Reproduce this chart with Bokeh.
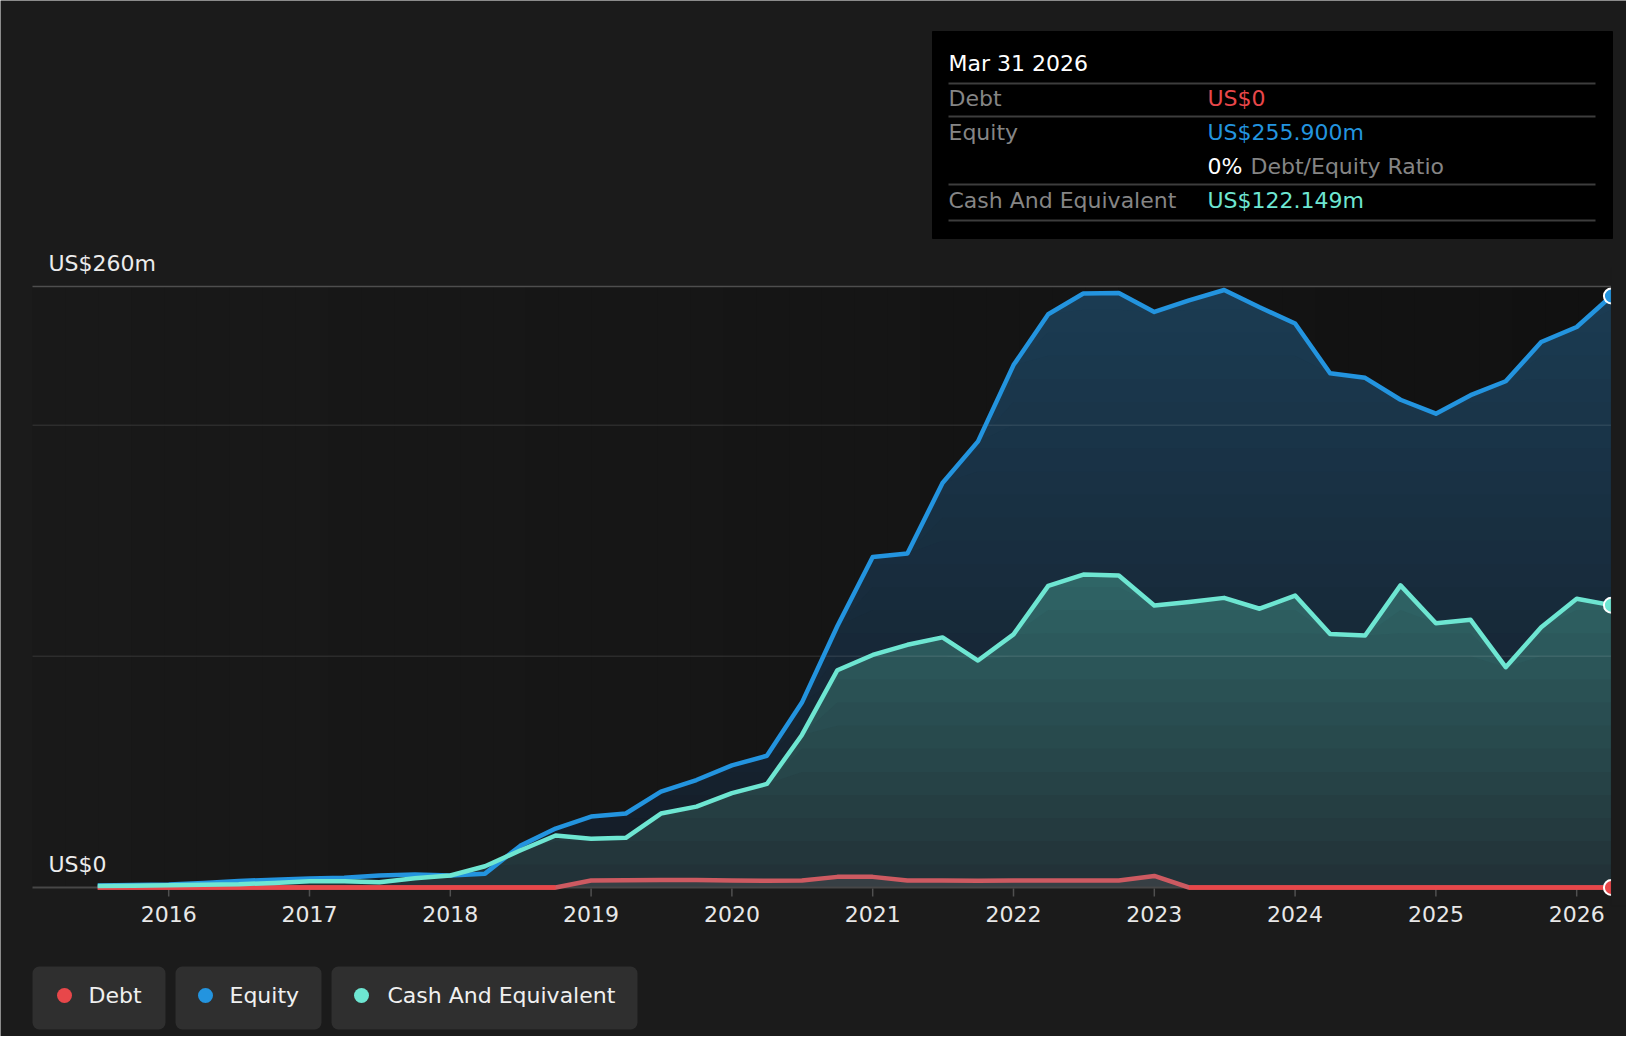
import numpy as np
from datetime import date
from bokeh.plotting import figure
from bokeh.models import Range1d, BoxAnnotation
from bokeh.core.properties import value
from bokeh.embed import file_html
from bokeh.resources import INLINE

# ---------------- data (US$ m) ----------------
quarters = [
    "2015-06-30", "2015-09-30", "2015-12-31",
    "2016-03-31", "2016-06-30", "2016-09-30", "2016-12-31",
    "2017-03-31", "2017-06-30", "2017-09-30", "2017-12-31",
    "2018-03-31", "2018-06-30", "2018-09-30", "2018-12-31",
    "2019-03-31", "2019-06-30", "2019-09-30", "2019-12-31",
    "2020-03-31", "2020-06-30", "2020-09-30", "2020-12-31",
    "2021-03-31", "2021-06-30", "2021-09-30", "2021-12-31",
    "2022-03-31", "2022-06-30", "2022-09-30", "2022-12-31",
    "2023-03-31", "2023-06-30", "2023-09-30", "2023-12-31",
    "2024-03-31", "2024-06-30", "2024-09-30", "2024-12-31",
    "2025-03-31", "2025-06-30", "2025-09-30", "2025-12-31",
    "2026-03-31",
]
debt = [
    0, 0, 0,
    0, 0, 0, 0,
    0, 0, 0, 0,
    0, 0, 0, 3.0,
    3.1, 3.2, 3.2, 3.0,
    2.9, 3.0, 4.6, 4.6,
    3.0, 3.0, 2.9, 3.0,
    3.0, 3.0, 3.0, 5.0,
    0, 0, 0, 0,
    0, 0, 0, 0,
    0, 0, 0, 0,
    0,
]
equity = [
    0.9, 1.1, 1.3,
    2.0, 2.8, 3.4, 3.9,
    4.2, 5.2, 5.6, 5.2,
    6.0, 18.0, 25.5, 30.7,
    32.0, 41.5, 46.5, 52.8,
    57.0, 80.0, 113.0, 143.0,
    144.5, 175.0, 193.0, 226.0,
    248.0, 257.0, 257.2, 249.0,
    254.0, 258.5, 251.0, 244.0,
    222.5, 220.5, 211.0, 205.0,
    213.0, 219.0, 236.0, 242.5,
    255.9,
]
cash = [
    0.6, 0.8, 1.0,
    1.2, 1.4, 2.0, 2.7,
    2.7, 2.3, 4.0, 5.2,
    9.2, 16.0, 22.5, 21.1,
    21.5, 32.0, 35.0, 40.8,
    44.8, 66.0, 94.0, 100.6,
    105.0, 108.2, 98.2, 109.5,
    130.5, 135.4, 135.0, 122.0,
    123.5, 125.3, 120.6, 126.3,
    109.7, 109.0, 130.7, 114.3,
    115.8, 95.3, 112.6, 124.9,
    122.149,
]
year_ticks = [2016, 2017, 2018, 2019, 2020, 2021, 2022, 2023, 2024, 2025, 2026]
y_label_values = [0, 260]
y_label_texts = ["US$0", "US$260m"]
grid_values = [100, 200]
series_names = ["Debt", "Equity", "Cash And Equivalent"]
tooltip_date = "Mar 31 2026"

# ---------------- style ----------------
PAGE = "#1b1b1b"
RED = "#e8474a"
RED_SOFT = "#cd5a61"
BLUE = "#2394df"
TEAL = "#6ee6d2"
GREY_TXT = "#858585"
FONT = value("DejaVu Sans")
FS = "22px"

W, H = 1626, 1036
OFF = 0  # canvas pixel = reference pixel - OFF
PX_X2016, PX_PER_YEAR = 168.2, 140.8
PX_Y0, PX_PER_M = 887.0, 2.3115


def fx(px):
    return 2016 + (px - PX_X2016) / PX_PER_YEAR


def fy(py):
    return (PX_Y0 - py) / PX_PER_M


def dec_year(s):
    d = date.fromisoformat(s)
    n = (date(d.year + 1, 1, 1) - date(d.year, 1, 1)).days
    return d.year + d.timetuple().tm_yday / n


def mix(c0, c1, t):
    t = min(max(t, 0.0), 1.0)
    return "#%02x%02x%02x" % tuple(int(round(a + (b - a) * t)) for a, b in zip(c0, c1))


xs = np.array([dec_year(q) for q in quarters])
d_arr = np.array(debt, dtype=float)
e_arr = np.array(equity, dtype=float)
c_arr = np.array(cash, dtype=float)

p = figure(width=W, height=H,
           x_range=Range1d(fx(OFF), fx(OFF + W)), y_range=Range1d(fy(OFF + H), fy(OFF)),
           output_backend="svg", toolbar_location=None,
           x_axis_location=None, y_axis_location=None,
           min_border=0, background_fill_color=PAGE, border_fill_color=PAGE,
           outline_line_color=None)
p.grid.visible = False

x_left = fx(32)
x_right = xs[-1]
y_top = y_label_values[-1]

# plot area background (darkening to the right); overlapping strips -> no seams
n = 48
edges = np.linspace(x_left, x_right, n + 1)
bg_cols = [mix((25, 25, 25), (17, 17, 17), i / (n - 1)) for i in range(n)]
p.quad(left=edges[:-1], right=[x_right] * n, bottom=0, top=y_top,
       fill_color=bg_cols, line_color=None)

# equity area (vertical gradient), drawn top band first so lower bands overlap
step = 10
lv = np.arange(0, y_top + step, step)
for a, b in reversed(list(zip(lv[:-1], lv[1:]))):
    if a >= e_arr.max():
        continue
    col = mix((20, 27, 37), (27, 60, 83), (a + b) / 2 / y_top)
    p.varea(x=xs, y1=0, y2=np.minimum(e_arr, b), fill_color=col, fill_alpha=1)

# cash area (vertical gradient)
for a, b in reversed(list(zip(lv[:-1], lv[1:]))):
    if a >= c_arr.max():
        continue
    col = mix((33, 48, 54), (48, 103, 104), (a + b) / 2 / 140)
    p.varea(x=xs, y1=0, y2=np.minimum(c_arr, b), fill_color=col, fill_alpha=1)

# debt area
p.varea(x=xs, y1=0, y2=d_arr, fill_color="#3a4046", fill_alpha=0.9)

# grid lines
p.segment(x0=x_left, x1=x_right, y0=grid_values, y1=grid_values,
          line_color="white", line_alpha=0.09, line_width=1.5)
p.segment(x0=x_left, x1=x_right, y0=y_top, y1=y_top,
          line_color="#4e4e4e", line_width=1.5)
p.segment(x0=x_left, x1=x_right, y0=0, y1=0, line_color="#474747", line_width=2)

# ticks + labels
p.segment(x0=year_ticks, x1=year_ticks, y0=fy(888), y1=fy(896),
          line_color="#505050", line_width=1.5)
p.text(x=year_ticks, y=fy(913), text=[str(y) for y in year_ticks],
       text_font=FONT, text_font_size=FS, text_color="#e8e8e8",
       text_align="center", text_baseline="middle")
p.text(x=fx(48), y=[v + 23.5 / PX_PER_M for v in y_label_values], text=y_label_texts,
       text_font=FONT, text_font_size=FS, text_color="#ececec",
       text_align="left", text_baseline="middle")

# lines
p.line(xs, d_arr, line_color=RED_SOFT, line_width=4.5, line_join="round")
p.line(xs, np.where(d_arr == 0, d_arr, np.nan), line_color=RED, line_width=4.5,
       line_join="round")
p.line(xs, e_arr, line_color=BLUE, line_width=4.5, line_join="round")
p.line(xs, c_arr, line_color=TEAL, line_width=4.5, line_join="round")

# end markers
p.scatter(x=[xs[-1]] * 3, y=[d_arr[-1], e_arr[-1], c_arr[-1]], size=15,
          fill_color=[RED, BLUE, TEAL], line_color="white", line_width=2)
# clip at plot edge
p.quad(left=x_right, right=fx(OFF + W), bottom=-8, top=y_top + 8,
       fill_color=PAGE, line_color=PAGE)

# tooltip
p.quad(left=fx(932), right=fx(1612), top=fy(31), bottom=fy(238),
       fill_color="black", line_color="black")
sep = [fy(83), fy(116), fy(184), fy(220)]
p.segment(x0=fx(948), x1=fx(1595), y0=sep, y1=sep, line_color="#3d3d3d", line_width=2)
ratio = d_arr[-1] / e_arr[-1] * 100
rows = [
    (948, 63, tooltip_date, "white"),
    (948, 98, series_names[0], GREY_TXT),
    (1207, 98, "US$0" if d_arr[-1] == 0 else f"US${d_arr[-1]:.3f}m", RED),
    (948, 132, series_names[1], GREY_TXT),
    (1207, 132, f"US${e_arr[-1]:.3f}m", BLUE),
    (1207, 166, f"{ratio:.0f}%", "white"),
    (1250, 166, "Debt/Equity Ratio", GREY_TXT),
    (948, 200, series_names[2], GREY_TXT),
    (1207, 200, f"US${c_arr[-1]:.3f}m", TEAL),
]
p.text(x=[fx(r[0]) for r in rows], y=[fy(r[1]) for r in rows], text=[r[2] for r in rows],
       text_color=[r[3] for r in rows], text_font=FONT, text_font_size=FS,
       text_align="left", text_baseline="middle")

# legend
boxes = [(32, 165), (175, 321), (331, 637)]
for l, r in boxes:
    p.add_layout(BoxAnnotation(left=fx(l), right=fx(r), bottom=fy(1029), top=fy(966),
                               fill_color="#2f2f2f", fill_alpha=1, line_color=None,
                               border_radius=7))
p.scatter(x=[fx(64), fx(205), fx(361)], y=fy(995), size=15,
          fill_color=[RED, BLUE, TEAL], line_color=None, level="overlay")
p.text(x=[fx(88), fx(229), fx(387)], y=fy(995), text=series_names,
       text_font=FONT, text_font_size=FS, text_color="#f0f0f0",
       text_align="left", text_baseline="middle", level="overlay")

open("out.html", "w").write(file_html(p, INLINE))
